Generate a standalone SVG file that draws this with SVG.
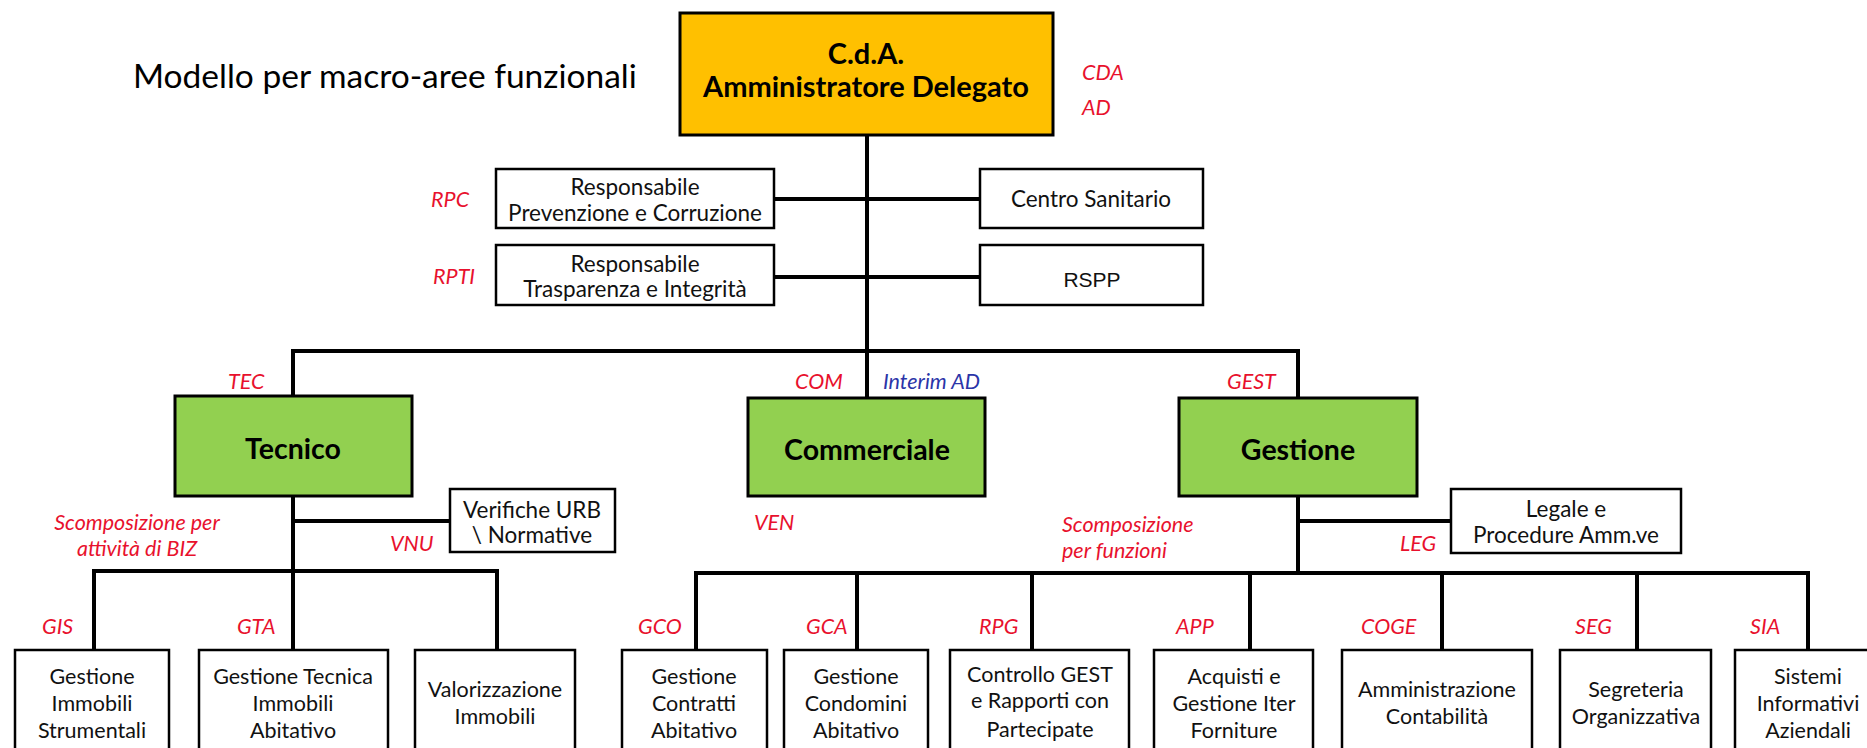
<svg xmlns="http://www.w3.org/2000/svg" width="1867" height="748" viewBox="0 0 1867 748">
<style>
.bg{fill:#ffffff}
.con{stroke:#000;stroke-width:4;fill:none;stroke-linecap:square}
.box{fill:#fff;stroke:#000;stroke-width:2.5}
.gold{fill:#FFC000;stroke:#000;stroke-width:3}
.green{fill:#92D050;stroke:#000;stroke-width:3}
.t{font-family:Lato,"Open Sans","Liberation Sans",sans-serif;font-size:22.5px;fill:#111;text-anchor:middle}
.tb{font-family:Lato,"Open Sans","Liberation Sans",sans-serif;font-size:21.5px;fill:#111;text-anchor:middle}
.big{font-family:Lato,"Open Sans","Liberation Sans",sans-serif;font-weight:bold;font-size:28.5px;fill:#000;text-anchor:middle}
.cda{font-family:Lato,"Open Sans","Liberation Sans",sans-serif;font-weight:bold;font-size:29px;fill:#000;text-anchor:middle}
.lab{font-family:Lato,"Open Sans","Liberation Sans",sans-serif;font-style:italic;font-size:21.5px;fill:#E8112D}
.blue{font-family:Lato,"Open Sans","Liberation Sans",sans-serif;font-style:italic;font-size:21.5px;fill:#2B35A8}
.arial{font-family:"Liberation Sans",Arial,sans-serif;font-size:21px;fill:#111;text-anchor:middle}
.title{font-family:Lato,"Open Sans","Liberation Sans",sans-serif;font-size:33.5px;fill:#000}
</style>
<rect class="bg" x="0" y="0" width="1867" height="748"/>
<text class="title" x="133" y="88">Modello per macro-aree funzionali</text>

<g id="connectors">
<path class="con" d="M867 135 V398"/>
<path class="con" d="M774 199 H980"/>
<path class="con" d="M774 277 H980"/>
<path class="con" d="M293 351 H1298"/>
<path class="con" d="M293 351 V396"/>
<path class="con" d="M1298 351 V398"/>
<path class="con" d="M293 496 V571"/>
<path class="con" d="M293 521 H450"/>
<path class="con" d="M94 571 H497"/>
<path class="con" d="M94 571 V650"/>
<path class="con" d="M293 571 V650"/>
<path class="con" d="M497 571 V650"/>
<path class="con" d="M1298 496 V573"/>
<path class="con" d="M1298 521 H1451"/>
<path class="con" d="M696 573 H1808"/>
<path class="con" d="M696 573 V650"/>
<path class="con" d="M857 573 V650"/>
<path class="con" d="M1032 573 V650"/>
<path class="con" d="M1250 573 V650"/>
<path class="con" d="M1442 573 V650"/>
<path class="con" d="M1637 573 V650"/>
<path class="con" d="M1808 573 V650"/>
</g>

<g id="cda">
<rect class="gold" x="680" y="13" width="373" height="122"/>
<text class="cda" x="866" y="64">C.d.A.</text>
<text class="cda" x="866" y="97">Amministratore Delegato</text>
<text class="lab" x="1082" y="80">CDA</text>
<text class="lab" x="1082" y="115">AD</text>
</g>

<g id="rpc">
<rect class="box" x="496" y="169" width="278" height="59"/>
<text class="t" x="635" y="195">Responsabile</text>
<text class="t" x="635" y="221">Prevenzione e Corruzione</text>
<text class="lab" x="431" y="207">RPC</text>
</g>

<g id="centro-sanitario">
<rect class="box" x="980" y="169" width="223" height="59"/>
<text class="t" x="1091" y="207">Centro Sanitario</text>
</g>

<g id="rpti">
<rect class="box" x="496" y="245" width="278" height="60"/>
<text class="t" x="635" y="272">Responsabile</text>
<text class="t" x="635" y="297">Trasparenza e Integrità</text>
<text class="lab" x="433" y="284">RPTI</text>
</g>

<g id="rspp">
<rect class="box" x="980" y="245" width="223" height="60"/>
<text class="arial" x="1092" y="287">RSPP</text>
</g>

<g id="tecnico">
<rect class="green" x="175" y="396" width="237" height="100"/>
<text class="big" x="293" y="459">Tecnico</text>
<text class="lab" x="228" y="389">TEC</text>
<text class="lab" x="137" y="530" text-anchor="middle">Scomposizione per</text>
<text class="lab" x="137" y="556" text-anchor="middle">attività di BIZ</text>
</g>

<g id="commerciale">
<rect class="green" x="748" y="398" width="237" height="98"/>
<text class="big" x="867" y="460">Commerciale</text>
<text class="lab" x="795" y="389">COM</text>
<text class="blue" x="883" y="389">Interim AD</text>
<text class="lab" x="754" y="530">VEN</text>
</g>

<g id="gestione">
<rect class="green" x="1179" y="398" width="238" height="98"/>
<text class="big" x="1298" y="460">Gestione</text>
<text class="lab" x="1227" y="389">GEST</text>
<text class="lab" x="1062" y="532">Scomposizione</text>
<text class="lab" x="1062" y="558">per funzioni</text>
</g>

<g id="vnu">
<rect class="box" x="450" y="489" width="165" height="63"/>
<text class="t" x="532" y="518">Verifiche URB</text>
<text class="t" x="532" y="543">\ Normative</text>
<text class="lab" x="390" y="551">VNU</text>
</g>

<g id="leg">
<rect class="box" x="1451" y="489" width="230" height="64"/>
<text class="t" x="1566" y="517">Legale e</text>
<text class="t" x="1566" y="543">Procedure Amm.ve</text>
<text class="lab" x="1400" y="551">LEG</text>
</g>

<g id="gis">
<rect class="box" x="15" y="650" width="154" height="120"/>
<text class="tb" x="92" y="684">Gestione</text>
<text class="tb" x="92" y="711">Immobili</text>
<text class="tb" x="92" y="738">Strumentali</text>
<text class="lab" x="42" y="634">GIS</text>
</g>

<g id="gta">
<rect class="box" x="199" y="650" width="189" height="120"/>
<text class="tb" x="293" y="684">Gestione Tecnica</text>
<text class="tb" x="293" y="711">Immobili</text>
<text class="tb" x="293" y="738">Abitativo</text>
<text class="lab" x="237" y="634">GTA</text>
</g>

<g id="valorizzazione">
<rect class="box" x="415" y="650" width="160" height="120"/>
<text class="tb" x="495" y="697">Valorizzazione</text>
<text class="tb" x="495" y="724">Immobili</text>
</g>

<g id="gco">
<rect class="box" x="622" y="650" width="145" height="120"/>
<text class="tb" x="694" y="684">Gestione</text>
<text class="tb" x="694" y="711">Contratti</text>
<text class="tb" x="694" y="738">Abitativo</text>
<text class="lab" x="638" y="634">GCO</text>
</g>

<g id="gca">
<rect class="box" x="784" y="650" width="144" height="120"/>
<text class="tb" x="856" y="684">Gestione</text>
<text class="tb" x="856" y="711">Condomini</text>
<text class="tb" x="856" y="738">Abitativo</text>
<text class="lab" x="806" y="634">GCA</text>
</g>

<g id="rpg">
<rect class="box" x="950" y="650" width="179" height="120"/>
<text class="tb" x="1040" y="682">Controllo GEST</text>
<text class="tb" x="1040" y="708">e Rapporti con</text>
<text class="tb" x="1040" y="737">Partecipate</text>
<text class="lab" x="979" y="634">RPG</text>
</g>

<g id="app">
<rect class="box" x="1154" y="650" width="159" height="120"/>
<text class="tb" x="1234" y="684">Acquisti  e</text>
<text class="tb" x="1234" y="711">Gestione Iter</text>
<text class="tb" x="1234" y="738">Forniture</text>
<text class="lab" x="1176" y="634">APP</text>
</g>

<g id="coge">
<rect class="box" x="1342" y="650" width="190" height="120"/>
<text class="tb" x="1437" y="697">Amministrazione</text>
<text class="tb" x="1437" y="724">Contabilità</text>
<text class="lab" x="1361" y="634">COGE</text>
</g>

<g id="seg">
<rect class="box" x="1560" y="650" width="151" height="120"/>
<text class="tb" x="1636" y="697">Segreteria</text>
<text class="tb" x="1636" y="724">Organizzativa</text>
<text class="lab" x="1575" y="634">SEG</text>
</g>

<g id="sia">
<rect class="box" x="1735" y="650" width="146" height="120"/>
<text class="tb" x="1808" y="684">Sistemi</text>
<text class="tb" x="1808" y="711">Informativi</text>
<text class="tb" x="1808" y="738">Aziendali</text>
<text class="lab" x="1750" y="634">SIA</text>
</g>
</svg>
